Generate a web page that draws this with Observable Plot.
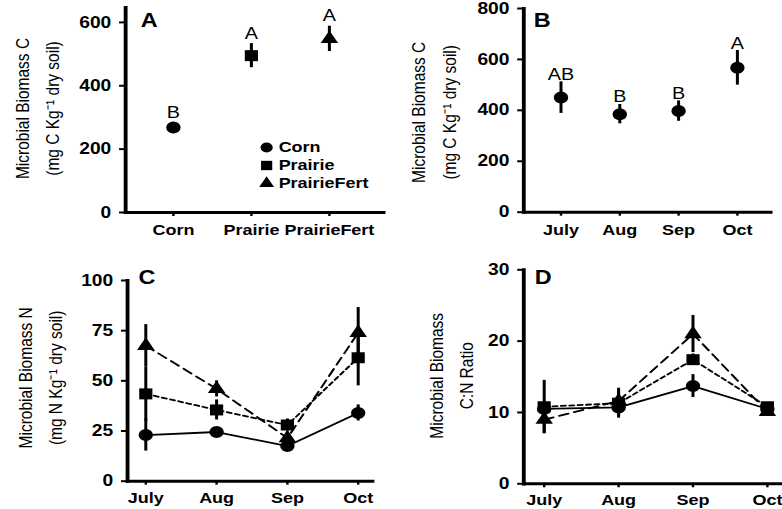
<!DOCTYPE html>
<html>
<head>
<meta charset="utf-8">
<script src="https://cdn.jsdelivr.net/npm/d3@7"></script>
<script src="https://cdn.jsdelivr.net/npm/@observablehq/plot@0.6"></script>
<style>
  html, body { margin: 0; padding: 0; background: #fff; overflow: hidden; }
  body { width: 782px; height: 509px; }
  /* the figure is laid out in a narrower box and widened horizontally */
  #fig { position: relative; width: 651.67px; height: 509px; transform: scale(1.2, 1); transform-origin: 0 0; }
  .panel { position: absolute; }
</style>
</head>
<body>
<div id="fig"></div>
<script>
// ---- Panel A: microbial biomass C by treatment ----
const treatments = ["Corn", "Prairie", "PrairieFert"];
const biomassC = [268, 495, 548];
const biomassCErr = [15, 38, 40];
const biomassCLetters = ["B", "A", "A"];

// ---- Panel B: microbial biomass C by month ----
const months = ["July", "Aug", "Sep", "Oct"];
const monthlyC = [450, 385, 397, 567];
const monthlyCErr = [62, 38, 40, 68];
const monthlyCLetters = ["AB", "B", "B", "A"];

// ---- Panel C: microbial biomass N (treatment x month) ----
const biomassNCorn = [23, 24.5, 17.5, 34];
const biomassNCornErr = [8, 2, 2, 4];
const biomassNPrairie = [43.5, 35.5, 28, 61.5];
const biomassNPrairieErr = [13.5, 5, 3, 14];
const biomassNPrairieFert = [67.5, 46, 21.5, 74];
const biomassNPrairieFertErr = [10.5, 4, 3, 12.5];

// ---- Panel D: microbial biomass C:N ratio (treatment x month) ----
const ratioCorn = [10.5, 10.7, 13.7, 10.5];
const ratioCornErr = [0.5, 1.5, 1.6, 0.5];
const ratioPrairie = [10.8, 11.3, 17.4, 10.8];
const ratioPrairieErr = [3.7, 1.8, 0.8, 0.6];
const ratioPrairieFert = [9.0, 11.6, 21.0, 10.1];
const ratioPrairieFertErr = [2.0, 1.8, 2.6, 0.5];

const yTicksA = [0, 200, 400, 600];
const yTicksB = [0, 200, 400, 600, 800];
const yTicksC = [0, 25, 50, 75, 100];
const yTicksD = [0, 10, 20, 30];

// marker and line style per treatment
const styleOf = {
  Corn:        {symbol: "circle",   r: 6,   dash: null},
  Prairie:     {symbol: "square",   r: 6.2, dash: "4,3"},
  PrairieFert: {symbol: "triangle", r: 5.4, dash: "8,5"}
};

const FONT = "'Liberation Sans', Arial, Helvetica, sans-serif";
const fig = document.getElementById("fig");

function place(svg, left, top) {
  const wrap = document.createElement("div");
  wrap.className = "panel";
  wrap.style.left = left + "px";
  wrap.style.top = top + "px";
  wrap.appendChild(svg);
  fig.appendChild(wrap);
}

function axes(yTicks, xPad) {
  return [
    Plot.frame({anchor: "left", strokeWidth: 3.2, stroke: "black"}),
    Plot.frame({anchor: "bottom", strokeWidth: 3, stroke: "black"}),
    Plot.axisY({ticks: yTicks, tickSize: 5, tickPadding: 7, strokeWidth: 2, fontWeight: "bold", fontSize: 16, fontFamily: FONT, label: null, fill: "black"}),
    Plot.axisX({tickSize: 4, tickPadding: xPad, strokeWidth: 2, fontWeight: "bold", fontSize: 15, fontFamily: FONT, label: null, fill: "black"})
  ];
}

function yTitle(lines, dx, dy) {
  return Plot.text([lines.join("\n")], {
    text: d => d, frameAnchor: "left", rotate: -90, dx, dy,
    fontSize: 15.5, fontFamily: FONT, lineHeight: 1.62, textAnchor: "middle", lineAnchor: "middle", fill: "black"
  });
}

function panelLetter(letter, dx, dy) {
  return Plot.text([letter], {
    text: d => d, frameAnchor: "top-left", dx, dy,
    fontSize: 19.5, fontWeight: "bold", fontFamily: FONT, textAnchor: "start", lineAnchor: "top", fill: "black"
  });
}

function seriesMarks(name, values, errs, withLine) {
  const s = styleOf[name];
  const rows = months.map((m, j) => ({month: m, value: values[j], err: errs[j]}));
  const marks = [];
  if (withLine) marks.push(Plot.line(rows, {x: "month", y: "value", stroke: "black", strokeWidth: 1.8, strokeDasharray: s.dash}));
  marks.push(Plot.ruleX(rows, {x: "month", y1: d => d.value - d.err, y2: d => d.value + d.err, stroke: "black", strokeWidth: 2.5}));
  marks.push(Plot.dot(rows, {x: "month", y: "value", symbol: s.symbol, r: s.r, fill: "black", stroke: "none"}));
  return marks;
}

const baseStyle = {fontFamily: FONT, background: "transparent", overflow: "visible", color: "black"};

// ---------- Panel A ----------
const rowsA = treatments.map((t, i) => ({treatment: t, value: biomassC[i], err: biomassCErr[i], letter: biomassCLetters[i]}));
const legendA = treatments.flatMap((t, i) => [
  Plot.dot([t], {frameAnchor: "top-left", dx: 117.5, dy: 140 + i * 18, symbol: styleOf[t].symbol, r: styleOf[t].r * 0.85, fill: "black"}),
  Plot.text([t], {text: d => d, frameAnchor: "top-left", dx: 127.5, dy: 140 + i * 18, textAnchor: "start", lineAnchor: "middle", fontWeight: "bold", fontSize: 15, fontFamily: FONT, fill: "black"})
]);
const plotA = Plot.plot({
  width: 325.8, height: 240,
  marginLeft: 104.2, marginRight: 6.6, marginTop: 7, marginBottom: 28,
  style: baseStyle,
  x: {type: "point", domain: treatments, range: [144.2, 274.2], padding: 0},
  y: {domain: [0, 647]},
  marks: [
    ...axes(yTicksA, 8),
    Plot.ruleX(rowsA, {x: "treatment", y1: d => d.value - d.err, y2: d => d.value + d.err, stroke: "black", strokeWidth: 2.5}),
    ...treatments.map(t => Plot.dot(rowsA.filter(d => d.treatment === t), {x: "treatment", y: "value", symbol: styleOf[t].symbol, r: styleOf[t].r, fill: "black"})),
    Plot.text(rowsA, {x: "treatment", y: d => d.value + d.err, text: "letter", dy: -5, lineAnchor: "bottom", fontSize: 16.5, fontFamily: FONT, fill: "black"}),
    ...legendA,
    yTitle(["Microbial Biomass C", "(mg C Kg\u207B\u00B9 dry soil)"], -76, -1.5),
    panelLetter("A", 12.5, 6)
  ]
});
place(plotA, 0, 0);

// ---------- Panel B ----------
const rowsB = months.map((m, i) => ({month: m, value: monthlyC[i], err: monthlyCErr[i], letter: monthlyCLetters[i]}));
const plotB = Plot.plot({
  width: 325.8, height: 240,
  marginLeft: 110, marginRight: 10, marginTop: 8, marginBottom: 28.3,
  style: baseStyle,
  x: {type: "point", domain: months, range: [140.8, 288.3], padding: 0},
  y: {domain: [0, 800]},
  marks: [
    ...axes(yTicksB, 8),
    Plot.ruleX(rowsB, {x: "month", y1: d => d.value - d.err, y2: d => d.value + d.err, stroke: "black", strokeWidth: 2.5}),
    Plot.dot(rowsB, {x: "month", y: "value", symbol: "circle", r: 6, fill: "black"}),
    Plot.text(rowsB, {x: "month", y: d => d.value + d.err, text: "letter", dy: -2, lineAnchor: "bottom", fontSize: 16.5, fontFamily: FONT, fill: "black"}),
    yTitle(["Microbial Biomass C", "(mg C Kg\u207B\u00B9 dry soil)"], -77.5, 2),
    panelLetter("B", 8.3, 5)
  ]
});
place(plotB, 325.8, 0);

// ---------- Panel C ----------
const plotC = Plot.plot({
  width: 325.8, height: 269,
  marginLeft: 105.8, marginRight: 15.8, marginTop: 40, marginBottom: 28.3,
  style: baseStyle,
  x: {type: "point", domain: months, range: [120.8, 298.3], padding: 0},
  y: {domain: [0, 100]},
  marks: [
    ...axes(yTicksC, 7),
    ...seriesMarks("Corn", biomassNCorn, biomassNCornErr, true),
    ...seriesMarks("Prairie", biomassNPrairie, biomassNPrairieErr, true),
    ...seriesMarks("PrairieFert", biomassNPrairieFert, biomassNPrairieFertErr, true),
    yTitle(["Microbial Biomass N", "(mg N Kg\u207B\u00B9 dry soil)"], -75, -3),
    panelLetter("C", 9.2, -10)
  ]
});
place(plotC, 0, 240);

// ---------- Panel D ----------
const plotD = Plot.plot({
  width: 325.8, height: 269,
  marginLeft: 110, marginRight: 0, marginTop: 29.3, marginBottom: 25.7,
  style: baseStyle,
  x: {type: "point", domain: months, range: [126.7, 313.3], padding: 0},
  y: {domain: [0, 30]},
  marks: [
    ...axes(yTicksD, 7),
    ...seriesMarks("Corn", ratioCorn, ratioCornErr, true),
    ...seriesMarks("Prairie", ratioPrairie, ratioPrairieErr, true),
    ...seriesMarks("PrairieFert", ratioPrairieFert, ratioPrairieFertErr, true),
    yTitle(["Microbial Biomass", "C:N Ratio"], -63, -1),
    panelLetter("D", 9.2, 0.7)
  ]
});
place(plotD, 325.8, 240);
</script>
</body>
</html>
